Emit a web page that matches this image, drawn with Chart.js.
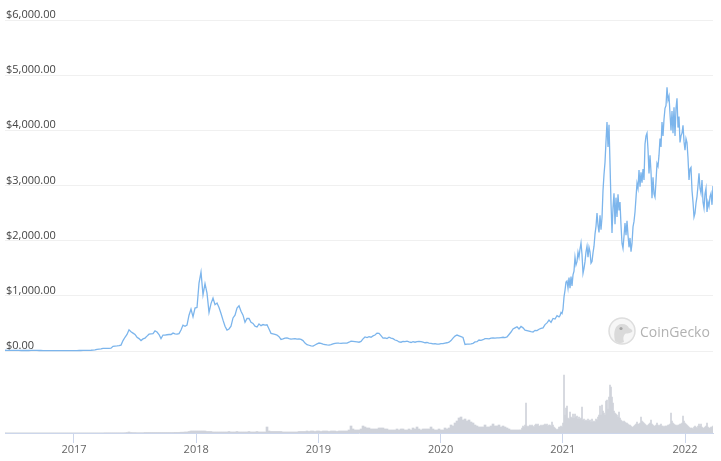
<!DOCTYPE html>
<html>
<head>
<meta charset="utf-8">
<title>ETH price</title>
<script src="https://cdn.jsdelivr.net/npm/chart.js@4"></script>
<style>
  html, body { margin: 0; padding: 0; background: #fff; }
  #wrap { position: relative; width: 721px; height: 461px; overflow: hidden; }
  #logo { position: absolute; left: 608px; top: 317px; }
  #brand { position: absolute; left: 640px; top: 322px; font: 14px "Open Sans", sans-serif; color: #b2b2b2; }
</style>
</head>
<body>
<div id="wrap">
  <canvas id="canvas" width="721" height="461"></canvas>
  <svg id="logo" width="28" height="28" viewBox="0 0 28 28">
    <circle cx="14" cy="14" r="13" fill="#f6f6f6" stroke="#dedede" stroke-width="1.5"/>
    <path d="M7 24 C5 15 7 7 14 7 C18 7 20 9 21 11 C24 12 25 14 24 15 C21 17 18 16 17 17 C15 19 15 22 16 25 C13 27 9 26 7 24 Z" fill="#dadada"/>
    <circle cx="13" cy="11.5" r="1.6" fill="#a5a5a5"/>
  </svg>
  <div id="brand">CoinGecko</div>
</div>
<script>
// 軸の目盛り
var yearTicks = [2017, 2018, 2019, 2020, 2021, 2022];
var priceTicks = [0, 1000, 2000, 3000, 4000, 5000, 6000];

// 表示範囲（年）
var startYear = 2016.4354;
var endYear = 2022.2291;

// サンプル間隔：2020年後半までは粗く、それ以降は細かく読み取った
var stepCoarse = 0.016367;
var stepFine = 0.0081833;
var priceFineStart = 2020.9771;
var volumeFineStart = 2020.6498;

// 価格
var prices = [
  14,13,12,12,11,12,12,11,10,10,
  10,10,10,11,11,11,11,10,10,9,
  9,8,8,8,8,8,8,8,8,8,
  8,8,8,8,8,8,8,10,10,11,
  11,12,13,14,16,20,30,35,40,48,
  50,50,48,52,85,90,92,98,108,190,
  250,300,385,350,325,300,250,225,190,220,
  235,270,305,310,315,365,345,300,225,290,
  290,295,300,300,325,310,305,315,380,470,
  450,470,650,760,620,780,790,1230,1430,1020,
  1220,1050,700,860,960,840,870,790,680,560,
  450,380,400,450,600,650,780,820,720,650,
  520,590,590,520,500,450,435,490,460,480,
  470,475,400,320,310,300,290,260,210,220,
  235,240,225,215,220,225,215,220,210,190,
  145,115,105,92,90,110,130,145,140,125,
  118,110,108,115,130,140,145,142,140,145,
  145,145,160,180,175,170,165,160,175,220,
  255,245,260,250,275,290,325,320,280,235,
  240,225,250,235,225,200,190,165,160,175,
  170,180,165,155,170,160,170,175,170,160,
  150,155,145,140,130,135,125,125,135,135,
  145,150,160,190,235,270,290,275,260,245,
  120,125,125,130,140,165,170,200,195,205,
  225,225,220,235,240,235,240,240,245,250,
  245,255,300,345,400,420,440,400,445,420,
  380,370,360,350,345,375,370,395,410,420,
  480,510,560,520,590,580,640,620
];

var pricesFine = [
  640,700,680,760,980,1100,1250,1270,1140,1330,
  1140,1350,1180,1380,1450,1700,1560,1620,1790,1700,
  1850,1960,1750,1410,1500,1620,1800,1900,1700,1880,
  1800,1590,1620,1780,1900,2120,2260,2500,2280,2150,
  2460,2200,2420,2910,3200,3420,3800,4150,3700,4100,
  3400,2680,2140,2600,2860,2300,2780,2430,2840,2550,
  2700,2280,1950,1860,2080,2320,2100,2360,2100,1880,
  2050,1800,1950,2250,2350,2520,2780,3040,2950,3280,
  2980,3240,3050,3300,3100,3750,3900,3950,3650,3220,
  3550,3250,2770,3150,2850,2790,3080,3400,3350,3550,
  3850,3700,4150,3900,4200,4400,4450,4780,4550,4620,
  4300,4000,4350,3950,4420,3900,4400,4580,4050,4250,
  3780,3900,3950,4090,3800,3640,3850,3780,3500,3100,
  3300,3330,2910,2700,2430,2500,2680,2800,3000,3220,
  2950,2860,3100,2700,2590,2850,2950,2520,2700,2620,
  2800,2860,2650,2990
];

// 出来高（軸がないので目安の値）
var volumes = [
  0.1,0.1,0.1,0.1,0.1,0.1,0.1,0.1,0.1,0.1,
  0.1,0.1,0.1,0.1,0.1,0.1,0.1,0.1,0.1,0.1,
  0.1,0.1,0.1,0.1,0.1,0.1,0.1,0.1,0.1,0.1,
  0.1,0.1,0.1,0.1,0.1,0.1,0.1,0.1,0.1,0.1,
  0.1,0.1,0.1,0.1,0.1,0.1,0.1,0.1,0.1,0.1,
  0.2,0.2,0.2,0.2,0.2,0.2,0.2,0.2,0.2,0.2,
  0.3,0.5,1,0.5,0.4,0.4,0.3,0.3,0.3,0.3,
  0.5,0.5,0.5,0.5,0.5,0.5,0.5,0.5,0.5,0.5,
  0.5,0.5,0.5,0.5,0.5,0.6,0.6,0.6,0.8,0.8,
  1,1,1.5,2,2,2,2,2,2,2,
  2,1.5,1.5,1.5,1,1,1,1,1,1,
  1,1,1.5,1,1,1,1.5,1,1,1,
  1,1,1.5,1,1,1,1.5,1,1,1,
  1,6,2,1.5,1.5,1.5,1.5,1.5,1.5,1,
  1,1,1,1,1,1,1,1.5,1.5,1.5,
  1.5,2,1.5,2,2,1.5,2,2,1.5,2,
  2,2,1.5,2,2,2,1.5,2,2,2,
  2,2,3,7,4,3,3,3,4,7,
  6,5,5,4,4,4,4,5,5,5,
  4,4,3,3,3,3,4,3,4,4,
  3,3,4,3,5,4,6,4,3,4,
  4,4,4,6,4,3,3,4,3,3,
  5,4,5,8,7,10,12,15,16,13,
  14,12,13,11,10,8,7,6,6,6,
  8,6,6,7,9,7,7,8,6,7,
  6,5,4,3,3,3,3,3
];

var volumesFine = [
  3,3,5,7,6,8,30,7,6,7,
  8,7,8,7,6,8,9,8,9,7,
  7,8,7,8,8,9,8,9,7,8,
  8,7,11,8,6,5,4,3,4,6,
  6,7,6,10,58,18,25,27,15,14,
  21,16,15,19,15,19,16,17,14,16,
  14,15,26,13,14,12,13,12,14,12,
  13,11,14,11,12,11,14,13,16,18,
  27,18,28,22,20,18,32,33,24,36,
  48,46,36,30,22,20,19,18,16,21,
  15,13,12,11,12,11,10,10,9,8,
  8,7,6,6,7,8,9,11,9,9,
  10,16,12,11,10,9,8,7,8,9,
  10,13,9,8,7,7,8,10,8,7,
  8,9,7,7,6,7,7,7,8,8,
  9,20,12,10,9,8,8,7,8,8,
  9,9,10,17,12,10,9,8,7,6,
  5,5,5,4,6,7,6,5,7,9,
  7,9,6,5,5,6,7,10,6,5,
  5,6,6,7
];

// 値の配列を {x, y} に変換
function toPoints(values, first, step) {
  return values.map(function(v, i) { return { x: first + i * step, y: v }; });
}

// 目盛りラベル
function dollar(v) {
  return '$' + v.toLocaleString('en-US', { minimumFractionDigits: 2, maximumFractionDigits: 2 });
}

var ctx = document.getElementById('canvas').getContext('2d');
window.myChart = new Chart(ctx, {
  data: {
    datasets: [
      {
        type: 'line',
        data: toPoints(prices, startYear, stepCoarse).concat(toPoints(pricesFine, priceFineStart, stepFine)),
        xAxisID: 'x',
        yAxisID: 'y',
        borderColor: '#7cb5ec',
        borderWidth: 1.3,
        pointRadius: 0,
        tension: 0,
        fill: false,
        order: 1
      },
      {
        type: 'bar',
        data: toPoints(volumes, startYear, stepCoarse),
        xAxisID: 'x',
        yAxisID: 'yVolume',
        backgroundColor: '#cfd2da',
        barThickness: 2,
        grouped: false,
        order: 2
      },
      {
        type: 'bar',
        data: toPoints(volumesFine, volumeFineStart, stepFine),
        xAxisID: 'x',
        yAxisID: 'yVolume',
        backgroundColor: '#cfd2da',
        barThickness: 1,
        grouped: false,
        order: 2
      }
    ]
  },
  options: {
    responsive: false,
    animation: false,
    layout: { padding: { left: 5, right: 8, top: 20, bottom: 0 } },
    plugins: { legend: { display: false }, tooltip: { enabled: false } },
    scales: {
      x: {
        type: 'linear',
        min: startYear,
        max: endYear,
        offset: false,
        afterBuildTicks: function(scale) {
          scale.ticks = yearTicks.map(function(y) { return { value: y }; });
        },
        afterFit: function(scale) { scale.height = 28; },
        grid: { offset: false, drawOnChartArea: false, color: '#ccd6eb', tickLength: 10, tickWidth: 1 },
        border: { color: '#ccd6eb', width: 1 },
        ticks: {
          autoSkip: false,
          maxRotation: 0,
          padding: 0,
          color: '#666666',
          font: { family: '"Open Sans"', size: 11 },
          callback: function(v) { return String(v); }
        }
      },
      y: {
        position: 'left',
        min: -1485.5,
        max: 6000,
        afterBuildTicks: function(scale) {
          scale.ticks = priceTicks.map(function(v) { return { value: v }; });
        },
        afterFit: function(scale) { scale.width = 0; },
        grid: { color: '#f0f0f0', drawTicks: false },
        border: { display: false },
        ticks: {
          mirror: true,
          padding: 1,
          labelOffset: -5,
          color: '#444444',
          font: { family: '"Open Sans"', size: 11 },
          callback: function(v) { return dollar(v); }
        }
      },
      // 出来高は下の帯だけに収まるよう上限を大きくする
      yVolume: {
        display: false,
        position: 'right',
        min: 0,
        max: 413
      }
    }
  }
});
</script>
</body>
</html>
